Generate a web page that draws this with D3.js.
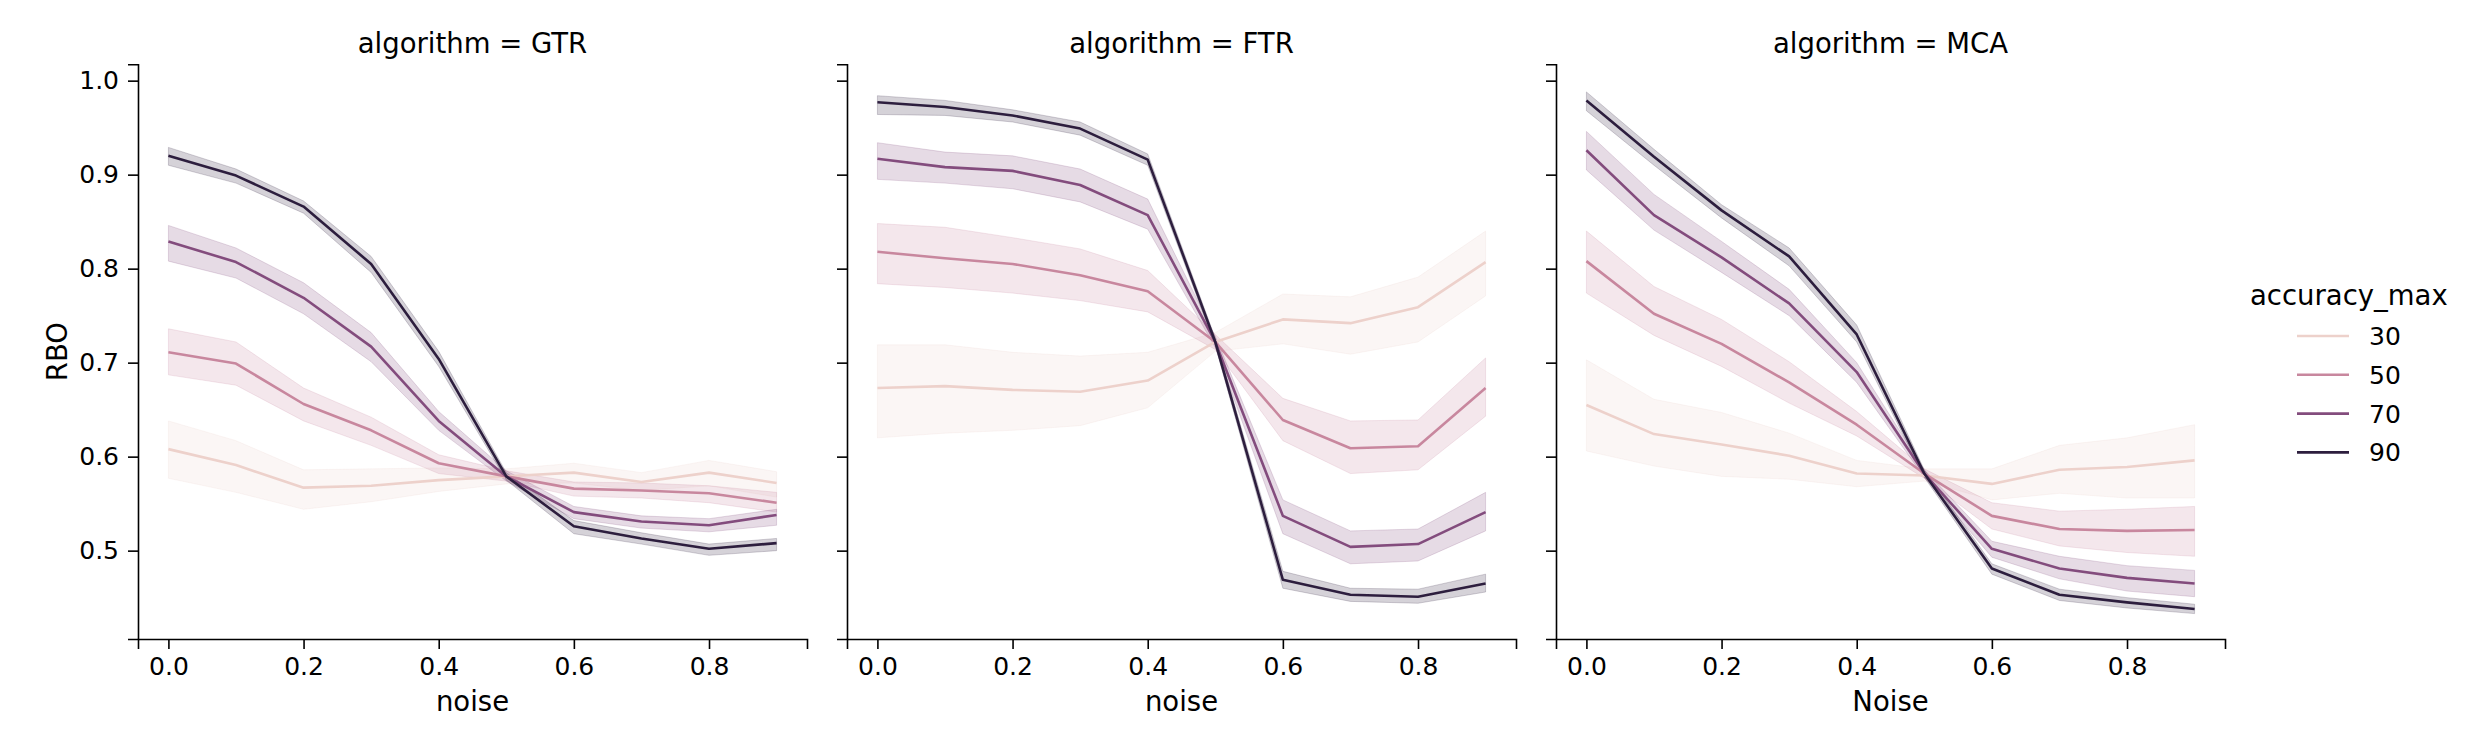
<!DOCTYPE html>
<html>
<head>
<meta charset="utf-8">
<script src="https://cdn.jsdelivr.net/npm/d3@7"></script>
<style>
  body { margin: 0; background: #fff; }
  svg { display: block; font-family: "DejaVu Sans", sans-serif; }
  .axis path, .axis line { stroke: #000; stroke-width: 1.6; }
  .axis text { fill: #000; font-size: 25px; font-family: "DejaVu Sans", sans-serif; }
</style>
</head>
<body>
<div class="chart"></div>
<script>
// x values and hue levels
const noise = [0.0, 0.1, 0.2, 0.3, 0.4, 0.5, 0.6, 0.7, 0.8, 0.9];
const accuracyLevels = [30, 50, 70, 90];
const algorithms = ["GTR", "FTR", "MCA"];
const xLabels = ["noise", "noise", "Noise"];
const yTicks = [0.5, 0.6, 0.7, 0.8, 0.9, 1.0];
const xTicks = [0.0, 0.2, 0.4, 0.6, 0.8];

// mean RBO, one row per accuracy_max level (30, 50, 70, 90)
const gtrMean = [
  [0.608, 0.591, 0.567, 0.569, 0.575, 0.579, 0.583, 0.573, 0.583, 0.572],
  [0.711, 0.699, 0.656, 0.628, 0.593, 0.579, 0.566, 0.564, 0.561, 0.551],
  [0.829, 0.807, 0.769, 0.717, 0.638, 0.579, 0.541, 0.531, 0.527, 0.538],
  [0.920, 0.899, 0.866, 0.805, 0.704, 0.579, 0.526, 0.513, 0.502, 0.508]
];
const gtrLow = [
  [0.577, 0.562, 0.544, 0.552, 0.563, 0.571, 0.572, 0.564, 0.569, 0.557],
  [0.687, 0.676, 0.638, 0.612, 0.582, 0.574, 0.558, 0.556, 0.551, 0.541],
  [0.808, 0.790, 0.752, 0.701, 0.628, 0.574, 0.534, 0.524, 0.520, 0.527],
  [0.910, 0.891, 0.859, 0.796, 0.696, 0.575, 0.518, 0.507, 0.495, 0.500]
];
const gtrHigh = [
  [0.638, 0.617, 0.586, 0.587, 0.588, 0.587, 0.593, 0.583, 0.596, 0.584],
  [0.736, 0.722, 0.673, 0.642, 0.602, 0.585, 0.573, 0.572, 0.569, 0.562],
  [0.846, 0.822, 0.785, 0.732, 0.648, 0.585, 0.547, 0.537, 0.534, 0.544],
  [0.929, 0.906, 0.872, 0.813, 0.712, 0.583, 0.532, 0.519, 0.507, 0.513]
];

const ftrMean = [
  [0.673, 0.675, 0.671, 0.669, 0.681, 0.722, 0.746, 0.742, 0.759, 0.807],
  [0.818, 0.811, 0.805, 0.793, 0.776, 0.722, 0.639, 0.609, 0.611, 0.673],
  [0.917, 0.908, 0.904, 0.889, 0.857, 0.722, 0.537, 0.504, 0.507, 0.541],
  [0.977, 0.972, 0.963, 0.949, 0.916, 0.722, 0.469, 0.453, 0.451, 0.465]
];
const ftrLow = [
  [0.620, 0.625, 0.628, 0.633, 0.652, 0.712, 0.720, 0.709, 0.722, 0.771],
  [0.784, 0.780, 0.774, 0.766, 0.754, 0.714, 0.617, 0.582, 0.586, 0.643],
  [0.895, 0.891, 0.885, 0.871, 0.842, 0.716, 0.518, 0.486, 0.489, 0.521],
  [0.964, 0.963, 0.956, 0.942, 0.910, 0.718, 0.460, 0.446, 0.444, 0.456]
];
const ftrHigh = [
  [0.719, 0.719, 0.711, 0.707, 0.711, 0.732, 0.773, 0.770, 0.791, 0.840],
  [0.848, 0.844, 0.833, 0.821, 0.798, 0.730, 0.662, 0.638, 0.639, 0.705],
  [0.934, 0.924, 0.920, 0.906, 0.874, 0.728, 0.554, 0.521, 0.523, 0.562],
  [0.984, 0.979, 0.969, 0.956, 0.922, 0.726, 0.478, 0.460, 0.459, 0.475]
];

const mcaMean = [
  [0.655, 0.624, 0.613, 0.601, 0.582, 0.580, 0.571, 0.586, 0.589, 0.596],
  [0.808, 0.752, 0.720, 0.679, 0.634, 0.582, 0.537, 0.523, 0.521, 0.522],
  [0.926, 0.857, 0.812, 0.763, 0.690, 0.582, 0.502, 0.481, 0.471, 0.465],
  [0.979, 0.919, 0.862, 0.813, 0.730, 0.582, 0.481, 0.453, 0.445, 0.438]
];
const mcaLow = [
  [0.606, 0.590, 0.579, 0.576, 0.568, 0.574, 0.554, 0.561, 0.556, 0.556],
  [0.774, 0.729, 0.696, 0.657, 0.622, 0.577, 0.523, 0.505, 0.498, 0.494],
  [0.905, 0.841, 0.796, 0.750, 0.679, 0.578, 0.493, 0.470, 0.457, 0.451],
  [0.968, 0.910, 0.854, 0.803, 0.722, 0.578, 0.475, 0.447, 0.439, 0.433]
];
const mcaHigh = [
  [0.703, 0.661, 0.647, 0.625, 0.596, 0.587, 0.587, 0.612, 0.620, 0.634],
  [0.840, 0.781, 0.746, 0.701, 0.648, 0.587, 0.551, 0.542, 0.544, 0.547],
  [0.946, 0.879, 0.829, 0.778, 0.700, 0.586, 0.510, 0.494, 0.484, 0.479],
  [0.988, 0.927, 0.868, 0.822, 0.740, 0.586, 0.486, 0.459, 0.450, 0.443]
];

const meanByAlgo = [gtrMean, ftrMean, mcaMean];
const lowByAlgo = [gtrLow, ftrLow, mcaLow];
const highByAlgo = [gtrHigh, ftrHigh, mcaHigh];

// layout
let outerWidth = 2472, outerHeight = 750;
let panelLeft = [138, 847, 1556];
let panelWidth = 669;
let panelTop = 64.3, panelBottom = 639;

let svg = d3.select(".chart").append("svg")
  .attr("width", outerWidth)
  .attr("height", outerHeight);

const xScale = d3.scaleLinear().domain([-0.045, 0.945]).range([0, panelWidth]);
const yScale = d3.scaleLinear().domain([0.406, 1.0174]).range([panelBottom - panelTop, 0]);

// seaborn cubehelix "ch:" sequential palette
const color = d3.scaleOrdinal()
  .domain(accuracyLevels)
  .range(["#edd1cb", "#c8879e", "#834c7d", "#2d1e3e"]);

const line = d3.line().x((d, i) => xScale(noise[i])).y(d => yScale(d));

algorithms.forEach((algo, a) => {
  let g = svg.append("g")
    .attr("transform", `translate(${panelLeft[a]},${panelTop})`);

  // confidence bands
  accuracyLevels.forEach((acc, k) => {
    let area = d3.area()
      .x((d, i) => xScale(noise[i]))
      .y0((d, i) => yScale(lowByAlgo[a][k][i]))
      .y1((d, i) => yScale(highByAlgo[a][k][i]));
    g.append("path")
      .attr("d", area(noise))
      .attr("fill", color(acc))
      .attr("fill-opacity", 0.2)
      .attr("stroke", color(acc))
      .attr("stroke-opacity", 0.2)
      .attr("stroke-width", 1);
  });

  accuracyLevels.forEach((acc, k) => {
    g.append("path")
      .attr("d", line(meanByAlgo[a][k]))
      .attr("fill", "none")
      .attr("stroke", color(acc))
      .attr("stroke-width", 2.6)
      .attr("stroke-linejoin", "round");
  });

  let xAxis = d3.axisBottom(xScale).tickValues(xTicks).tickFormat(d3.format(".1f"))
    .tickSizeOuter(0).tickSize(10).tickPadding(7);
  g.append("g")
    .attr("class", "axis x-axis")
    .attr("transform", `translate(0,${panelBottom - panelTop})`)
    .call(xAxis);

  let yAxis = d3.axisLeft(yScale).tickValues(yTicks).tickSizeOuter(0).tickSize(10).tickPadding(9)
    .tickFormat(a === 0 ? d3.format(".1f") : "");
  g.append("g")
    .attr("class", "axis y-axis")
    .call(yAxis);

  g.selectAll(".x-axis text").attr("dy", "0.76em");

  // title
  g.append("text")
    .attr("x", panelWidth / 2)
    .attr("y", 53.3 - panelTop)
    .attr("text-anchor", "middle")
    .attr("font-size", "27.5px")
    .text("algorithm = " + algo);

  // x label
  g.append("text")
    .attr("x", panelWidth / 2)
    .attr("y", 711.5 - panelTop)
    .attr("text-anchor", "middle")
    .attr("font-size", "27.5px")
    .text(xLabels[a]);
});

// y label
svg.append("text")
  .attr("transform", `translate(66.5,${(panelTop + panelBottom) / 2}) rotate(-90)`)
  .attr("text-anchor", "middle")
  .attr("font-size", "27.5px")
  .text("RBO");

// legend
let legend = svg.append("g").attr("class", "legend");
legend.append("text")
  .attr("x", 2250)
  .attr("y", 305)
  .attr("font-size", "27.5px")
  .text("accuracy_max");

legend.selectAll("line")
  .data(accuracyLevels)
  .enter()
  .append("line")
  .attr("x1", 2297)
  .attr("x2", 2349)
  .attr("y1", (d, i) => 336 + i * 38.8)
  .attr("y2", (d, i) => 336 + i * 38.8)
  .attr("stroke", d => color(d))
  .attr("stroke-width", 2.6);

legend.selectAll("text.lab")
  .data(accuracyLevels)
  .enter()
  .append("text")
  .attr("class", "lab")
  .attr("x", 2369)
  .attr("y", (d, i) => 336 + i * 38.8)
  .attr("dy", "0.36em")
  .attr("font-size", "25px")
  .text(d => d);
</script>
</body>
</html>
